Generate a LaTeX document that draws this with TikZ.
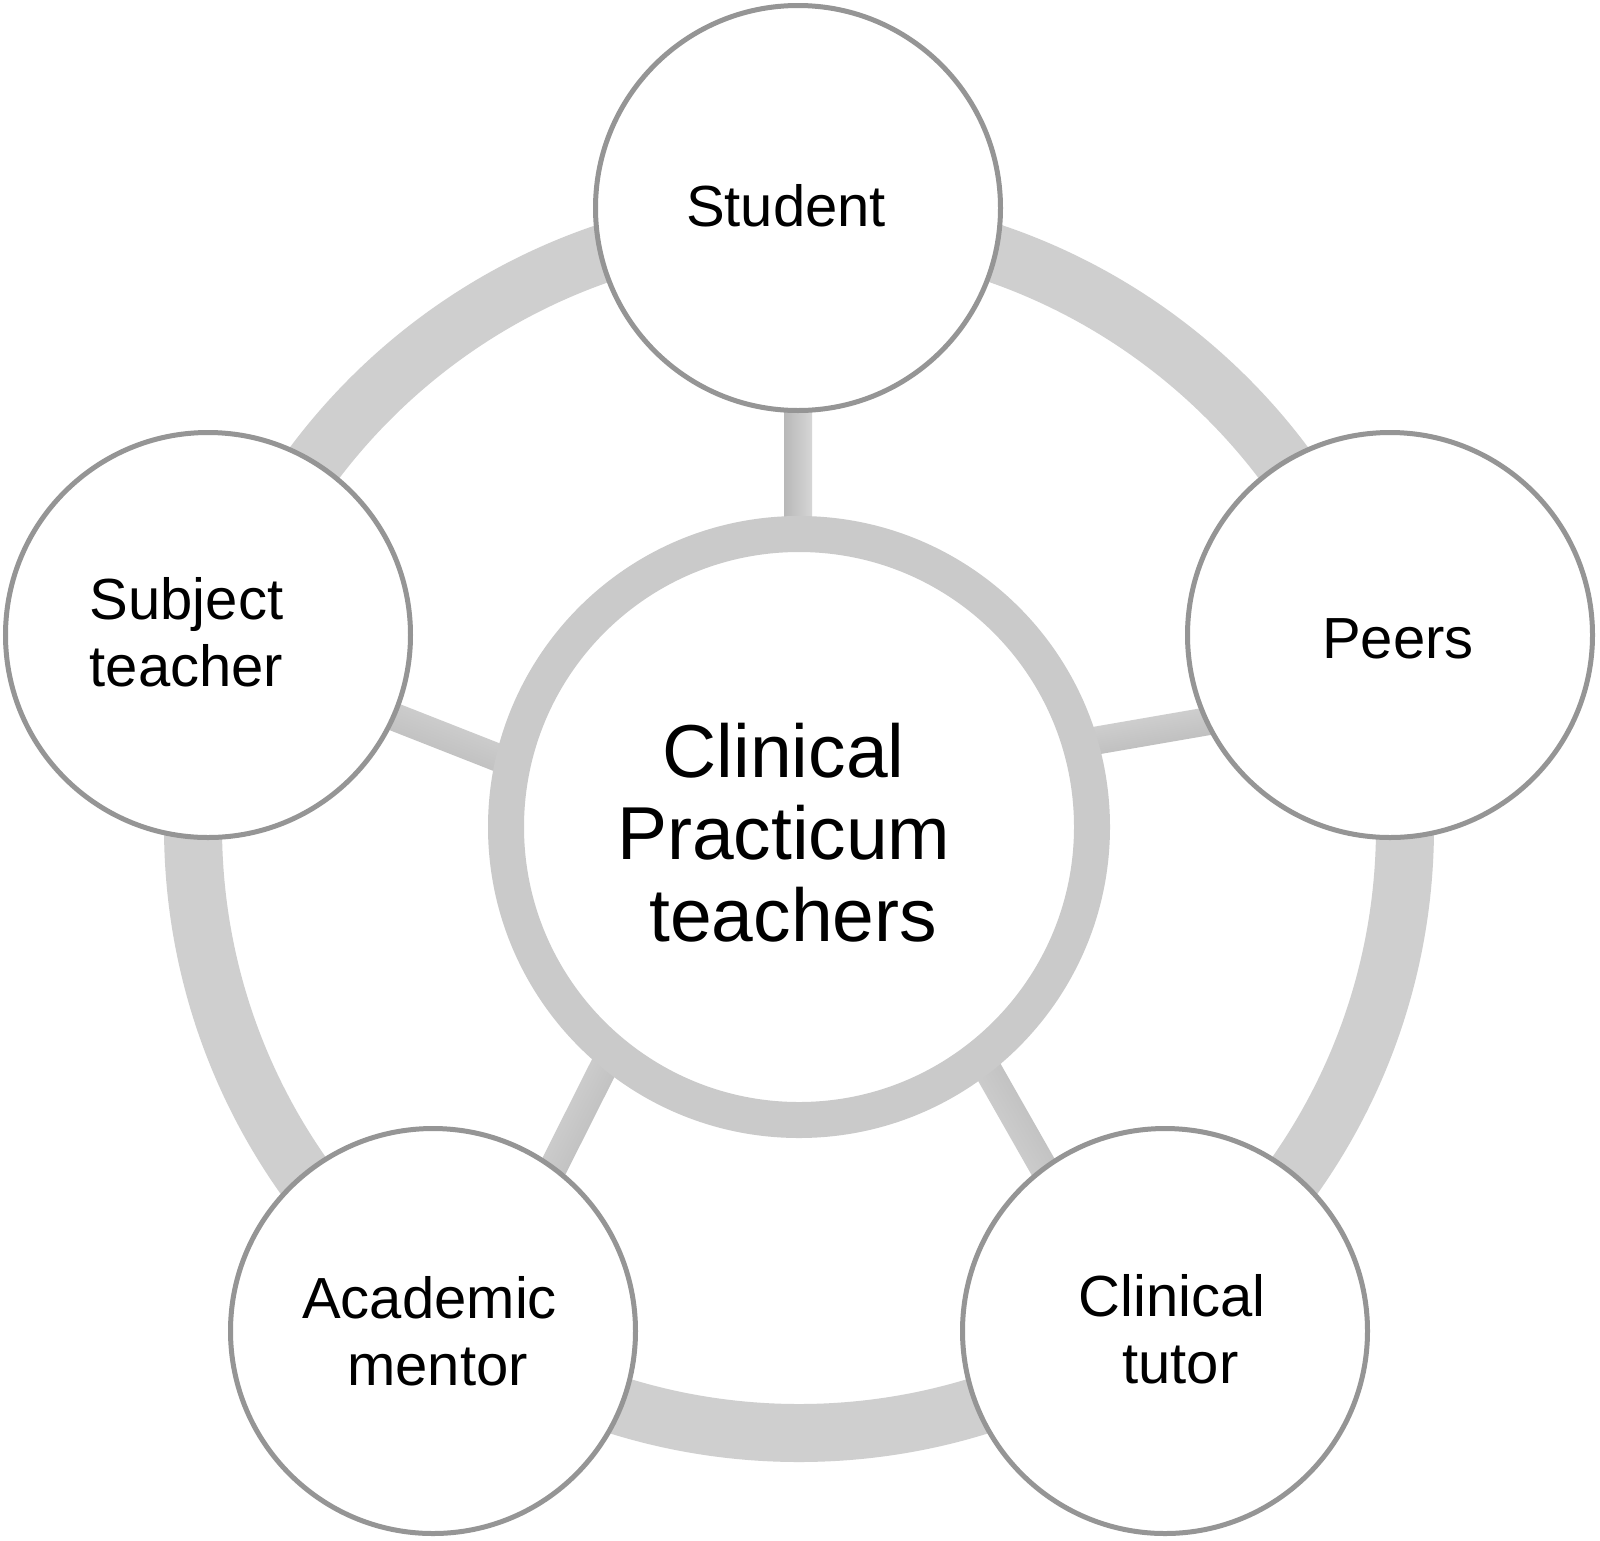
\documentclass[tikz,border=0pt]{standalone}
\usepackage{fontspec}
\setmainfont{Liberation Sans}
\usetikzlibrary{calc,backgrounds}
\definecolor{ringgray}{HTML}{CFCFCF}
\definecolor{hubgray}{HTML}{CACACA}
\definecolor{edgegray}{HTML}{959595}
\definecolor{spokedark}{HTML}{B8B8B8}
\definecolor{spokelight}{HTML}{D6D6D6}
\begin{document}
\begin{tikzpicture}[x=1pt,y=-1pt,
  sat/.style={circle, draw=edgegray, line width=5pt, fill=white, minimum size=405pt, inner sep=0pt},
  hub/.style={circle, draw=hubgray, line width=36pt, fill=white, minimum size=586pt, inner sep=0pt},
  lbl/.style={align=center, anchor=base, inner sep=0pt, font=\fontsize{58}{67}\selectfont},
  hublbl/.style={align=center, anchor=base, inner sep=0pt, font=\fontsize{75}{82}\selectfont},
  spoke/.style={top color=spokedark, bottom color=spokelight}
  ]
\useasboundingbox (0,0) rectangle (1600,1540);

% centre and satellites
\node[hub] (hub) at (799,827) {};
\node[sat] (student) at (798,208) {};
\node[sat] (peers) at (1390,635) {};
\node[sat] (subject) at (208,635) {};
\node[sat] (mentor) at (433,1331) {};
\node[sat] (tutor) at (1165,1331) {};

% labels (base anchor = baseline of the last line)
\node[hublbl] (hubT) at (783.7,941) {Clinical\\Practicum\\\hspace*{19pt}teachers};
\node[lbl] (studentT) at (786,226.5) {Student};
\node[lbl] (peersT) at (1398,658) {Peers};
\node[lbl] (subjectT) at (186.5,686) {Subject\\teacher};
\node[lbl] (mentorT) at (429.6,1385) {Academic\\\hspace*{16pt}mentor};
\node[lbl] (tutorT) at (1172.4,1383) {Clinical\\\hspace*{16pt}tutor};

% spoke end points
\coordinate (s1a) at (798,532);
\coordinate (s1b) at (798,412);
\coordinate (s2a) at (1082,743);
\coordinate (s2b) at (1215,720);
\coordinate (s3a) at (980.6,1057);
\coordinate (s3b) at (1046,1172);
\coordinate (s4a) at (609.4,1055.8);
\coordinate (s4b) at (553,1168);
\coordinate (s5a) at (508.7,761.9);
\coordinate (s5b) at (392.7,716.3);

\begin{scope}[on background layer]
  \fill[white] (0,0) rectangle (1600,1540);
  \draw[ringgray, line width=58pt] (hub.center) circle (606pt);
  \foreach \a/\b/\ang in {s1a/s1b/90, s2a/s2b/-170, s3a/s3b/-60, s4a/s4b/-117, s5a/s5b/159}{
    \shade[spoke, shading angle=\ang]
      ($(\a)!14pt!90:(\b)$) -- ($(\b)!14pt!-90:(\a)$) --
      ($(\b)!14pt!90:(\a)$) -- ($(\a)!14pt!-90:(\b)$) -- cycle;
  }
\end{scope}
\end{tikzpicture}
\end{document}
